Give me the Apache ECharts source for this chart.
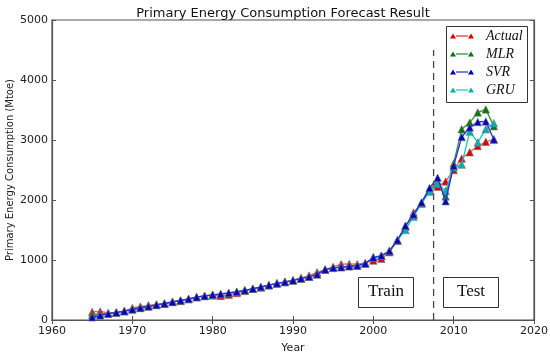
<!DOCTYPE html>
<html><head><meta charset="utf-8">
<script src="https://cdn.jsdelivr.net/npm/echarts@6/dist/echarts.min.js"></script>
<style>html,body{margin:0;padding:0;background:#fff}#c{width:550px;height:354px}</style>
</head><body><div id="c"></div>
<script>
const years = [];
for (let y = 1965; y <= 2015; y++) years.push(y);
const actual = [135,142,118,124,150,200,225,245,262,268,305,318,348,385,402,410,402,420,450,485,522,540,578,612,640,662,700,740,795,840,885,930,935,930,950,990,1020,1130,1320,1560,1790,1940,2150,2220,2310,2500,2690,2795,2900,2970,3010];
const mlr = [90,100,110,126,148,180,205,228,252,274,302,326,352,382,402,420,432,450,472,497,522,550,580,610,632,662,692,722,765,840,868,882,898,910,940,1040,1070,1150,1330,1560,1750,1955,2170,2300,2060,2610,3180,3290,3460,3510,3230];
const svr = [45,75,105,125,145,175,200,225,250,275,300,325,350,380,400,420,435,450,470,495,520,550,580,610,632,660,690,720,760,840,870,880,895,905,940,1040,1070,1150,1330,1570,1760,1960,2200,2370,1980,2570,3050,3210,3300,3310,3010];
const gru = [null,null,null,null,null,null,null,null,null,null,null,null,null,null,null,null,null,null,null,null,null,null,null,null,null,null,null,null,null,null,null,null,null,null,null,1050,1070,1155,1333,1500,1722,1944,2140,2270,2150,2545,2590,3140,2960,3180,3280];
const splitYear = 2007.5;
const splitTop = 4500;
const xTicks = [1960, 2020, 10];
const yTicks = [0, 5000, 1000];

const pair = arr => years.map((y, i) => [y, arr[i]]);
const tri = 'path://M0,10 L5,2 L10,10 Z M10,5 L30,5 L30,7 L10,7 Z M30,10 L35,2 L40,10 Z';

function mk(name, data, lineColor, markColor, z) {
  return {
    name, type: 'line', data: pair(data), z, color: markColor,
    symbol: 'triangle', symbolSize: 7.5,
    lineStyle: { color: lineColor, width: 1.3 },
    itemStyle: { color: markColor, borderColor: '#777', borderWidth: 0.6 },
    connectNulls: false, animation: false
  };
}

const chart = echarts.init(document.getElementById('c'));
const axisCommon = {
  axisLine: { lineStyle: { color: '#555', width: 1.2 } },
  axisTick: { inside: true, length: 4, lineStyle: { color: '#555' } },
  splitLine: { show: false }
};
const lab = { fontFamily: 'DejaVu Sans', fontSize: 11, color: '#222', formatter: v => String(v) };
chart.setOption({
  animation: false,
  title: { text: 'Primary Energy Consumption Forecast Result', left: 278, top: 2, textAlign: 'center',
    textStyle: { fontFamily: 'DejaVu Sans', fontSize: 13, fontWeight: 'normal', color: '#111' } },
  grid: { left: 52, right: 16, top: 20, bottom: 34, show: true, borderColor: '#555', borderWidth: 1.2,
    containLabel: false, outerBoundsMode: 'none' },
  xAxis: [
    Object.assign({ type: 'value', min: xTicks[0], max: xTicks[1], interval: xTicks[2],
      name: 'Year', nameLocation: 'middle', nameGap: 23, nameMoveOverlap: false,
      nameTextStyle: { fontFamily: 'DejaVu Sans', fontSize: 11, color: '#222' },
      axisLabel: Object.assign({ margin: 6 }, lab) }, axisCommon),
    Object.assign({ type: 'value', position: 'top', min: xTicks[0], max: xTicks[1], interval: xTicks[2],
      axisLabel: { show: false } }, axisCommon)
  ],
  yAxis: [
    Object.assign({ type: 'value', min: yTicks[0], max: yTicks[1], interval: yTicks[2],
      name: 'Primary Energy Consumption (Mtoe)', nameLocation: 'middle', nameGap: 37, nameMoveOverlap: false,
      nameTextStyle: { fontFamily: 'DejaVu Sans', fontSize: 10, color: '#222' },
      axisLabel: Object.assign({ margin: 4 }, lab) }, axisCommon),
    Object.assign({ type: 'value', position: 'right', min: yTicks[0], max: yTicks[1], interval: yTicks[2],
      axisLabel: { show: false } }, axisCommon)
  ],
  legend: {
    left: 450, top: 29, orient: 'vertical', itemWidth: 24, itemHeight: 6, itemGap: 4, padding: 0,
    data: ['Actual', 'MLR', 'SVR', 'GRU'],
    itemStyle: { borderWidth: 0 },
    textStyle: { fontFamily: 'Liberation Serif', fontStyle: 'italic', fontSize: 14, color: '#111',
      lineHeight: 14, padding: [0, 0, 0, 7] },
    icon: tri
  },
  graphic: [
    { type: 'rect', shape: { x: 446.5, y: 26.5, width: 81, height: 76 }, z: -1,
      style: { fill: '#fff', stroke: '#333', lineWidth: 1 } },
    { type: 'rect', shape: { x: 358.5, y: 277.5, width: 55, height: 30 },
      style: { fill: '#fff', stroke: '#333', lineWidth: 1 } },
    { type: 'text', x: 386, y: 292, style: { text: 'Train', fontFamily: 'Liberation Serif', fontSize: 17,
      fill: '#111', align: 'center', verticalAlign: 'middle' } },
    { type: 'rect', shape: { x: 443.5, y: 277.5, width: 55, height: 30 },
      style: { fill: '#fff', stroke: '#333', lineWidth: 1 } },
    { type: 'text', x: 471, y: 292, style: { text: 'Test', fontFamily: 'Liberation Serif', fontSize: 17,
      fill: '#111', align: 'center', verticalAlign: 'middle' } }
  ],
  series: [
    { name: 'split', type: 'line', data: [[splitYear, 0], [splitYear, splitTop]], symbol: 'none', z: 1,
      lineStyle: { color: '#444', width: 1.3, type: [7, 5] }, silent: true },
    mk('Actual', actual, '#f26060', '#e00000', 2),
    mk('MLR', mlr, '#2e9a3e', '#007a00', 3),
    mk('SVR', svr, '#2a2ae0', '#0000c0', 5),
    mk('GRU', gru, '#10c8c8', '#00b0b0', 4)
  ]
});
</script></body></html>
